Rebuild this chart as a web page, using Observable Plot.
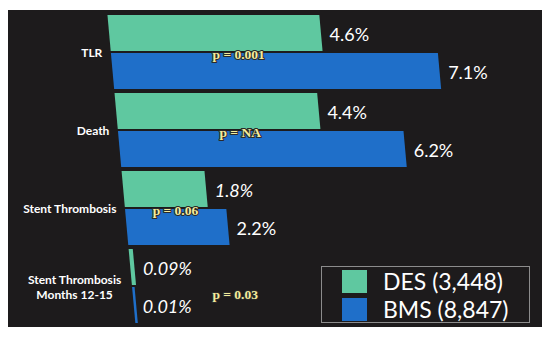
<!DOCTYPE html>
<html>
<head>
<meta charset="utf-8">
<script src="https://cdn.jsdelivr.net/npm/d3@7"></script>
<script src="https://cdn.jsdelivr.net/npm/@observablehq/plot@0.6"></script>
<style>
  html, body { margin: 0; padding: 0; background: #ffffff; width: 550px; height: 338px; overflow: hidden; }
  #panel { position: absolute; left: 8px; top: 10px; width: 534px; height: 317px; background: #1d1b1c; }
  #panel svg { position: absolute; left: 0; top: 0; }
  #legend { position: absolute; left: 321px; top: 266px; width: 207px; height: 55px; border: 1.5px solid #8c8c8c; box-sizing: content-box; }
  .item { position: absolute; left: 0; height: 24px; font-family: Lato, "Open Sans", sans-serif; font-size: 23px; color: #fff; white-space: nowrap; }
  .sw { position: absolute; left: 20px; top: 0; width: 25px; height: 23px; }
  .lab { position: absolute; left: 61px; top: -3px; line-height: 28px; }
</style>
</head>
<body>
<div id="panel"></div>
<div id="legend"></div>
<script>
// ---- data ----
const categories = ["TLR", "Death", "Stent Thrombosis", "Stent Thrombosis\nMonths 12-15"];
const groups = ["DES", "BMS"];
const groupCounts = ["3,448", "8,847"];
const desValues = [4.6, 4.4, 1.8, 0.09];
const bmsValues = [7.1, 6.2, 2.2, 0.01];
const pValues = ["p = 0.001", "p = NA", "p = 0.06", "p = 0.03"];

// ---- styles ----
const colors = ["#5fc8a0", "#1f6fc9"];
const skewK = 0.0905; // perspective lean of the bars

const rows = categories.flatMap((c, i) => [
  {category: c, group: groups[0], value: desValues[i]},
  {category: c, group: groups[1], value: bmsValues[i]}
]);
const pRows = categories.map((c, i) => ({category: c, p: pValues[i], des: desValues[i], bms: bmsValues[i], i}));
const isItalic = d => (d.category === categories[2] && d.group === groups[0]) || d.category === categories[3];

const chart = Plot.plot({
  width: 534,
  height: 317,
  marginLeft: 99,
  marginRight: 108,
  marginTop: 4,
  marginBottom: 3,
  style: {background: "transparent", overflow: "visible"},
  x: {domain: [0, 7.1], axis: null},
  y: {domain: groups, axis: null, paddingInner: 0.04, paddingOuter: 0},
  fy: {domain: categories, axis: null, paddingInner: 0.04, paddingOuter: 0},
  color: {domain: groups, range: colors},
  marks: [
    Plot.barX(rows, {x: "value", y: "group", fy: "category", fill: "group"}),
    Plot.text(categories.slice(0, 3), {
      fy: d => d, text: d => d, frameAnchor: "left", textAnchor: "end", dx: -9,
      fill: "white", fontSize: 12, fontWeight: 700, fontFamily: "Lato, sans-serif"
    }),
    Plot.text(categories.slice(3), {
      fy: d => d, text: d => d, frameAnchor: "left", textAnchor: "middle", dx: -58, lineHeight: 1.25,
      fill: "white", fontSize: 12, fontWeight: 700, fontFamily: "Lato, sans-serif"
    }),
    Plot.text(rows, {
      filter: d => !isItalic(d),
      x: "value", y: "group", fy: "category", text: d => `${d.value}%`,
      textAnchor: "start", dx: 8, dy: 2, fill: "white", fontSize: 18, fontFamily: "Lato, sans-serif"
    }),
    Plot.text(rows, {
      filter: isItalic,
      x: "value", y: "group", fy: "category", text: d => `${d.value}%`,
      textAnchor: "start", dx: 8, dy: 2, fill: "white", fontSize: 18, fontStyle: "italic", fontFamily: "Lato, sans-serif"
    }),
    Plot.text(pRows, {
      filter: d => d.i < 3,
      fy: "category", x: d => Math.min(d.des, d.bms) * 0.6, text: "p",
      textAnchor: "middle", dy: 2, fill: "#f4ec9c", stroke: "#2a2a2a", strokeWidth: 2,
      fontSize: 13.5, fontWeight: "bold", fontFamily: "'Liberation Serif', 'DejaVu Serif', serif"
    }),
    Plot.text(pRows, {
      filter: d => d.i === 3,
      fy: "category", x: "des", text: "p",
      textAnchor: "start", dx: 75, dy: 8, fill: "#f4ec9c", stroke: "#2a2a2a", strokeWidth: 2,
      fontSize: 13.5, fontWeight: "bold", fontFamily: "'Liberation Serif', 'DejaVu Serif', serif"
    })
  ]
});
document.getElementById("panel").appendChild(chart);

// lean everything like the original's perspective view
const svgTop = chart.getBoundingClientRect().top;
chart.querySelectorAll('g[aria-label="bar"] rect').forEach(r => {
  const w = +r.getAttribute("width");
  if (w < 3) r.setAttribute("width", Math.max(w + 2, 2.5));
  const b = r.getBoundingClientRect();
  const yAbs = b.top - svgTop;
  const yLoc = +r.getAttribute("y");
  const deg = Math.atan(skewK) * 180 / Math.PI;
  r.setAttribute("transform", `translate(${skewK * (yAbs - yLoc)},0) skewX(${deg})`);
});
chart.querySelectorAll('g[aria-label="text"] text').forEach(t => {
  const b = t.getBoundingClientRect();
  const yc = b.top + b.height / 2 - svgTop;
  const old = t.getAttribute("transform") || "";
  t.setAttribute("transform", `translate(${skewK * yc},0) ${old}`);
});

// legend
const legend = document.getElementById("legend");
groups.forEach((g, i) => {
  const item = document.createElement("div");
  item.className = "item";
  item.style.top = (3 + i * 28) + "px";
  item.innerHTML = `<div class="sw" style="background:${colors[i]}"></div><div class="lab">${g} (${groupCounts[i]})</div>`;
  legend.appendChild(item);
});
</script>
</body>
</html>
